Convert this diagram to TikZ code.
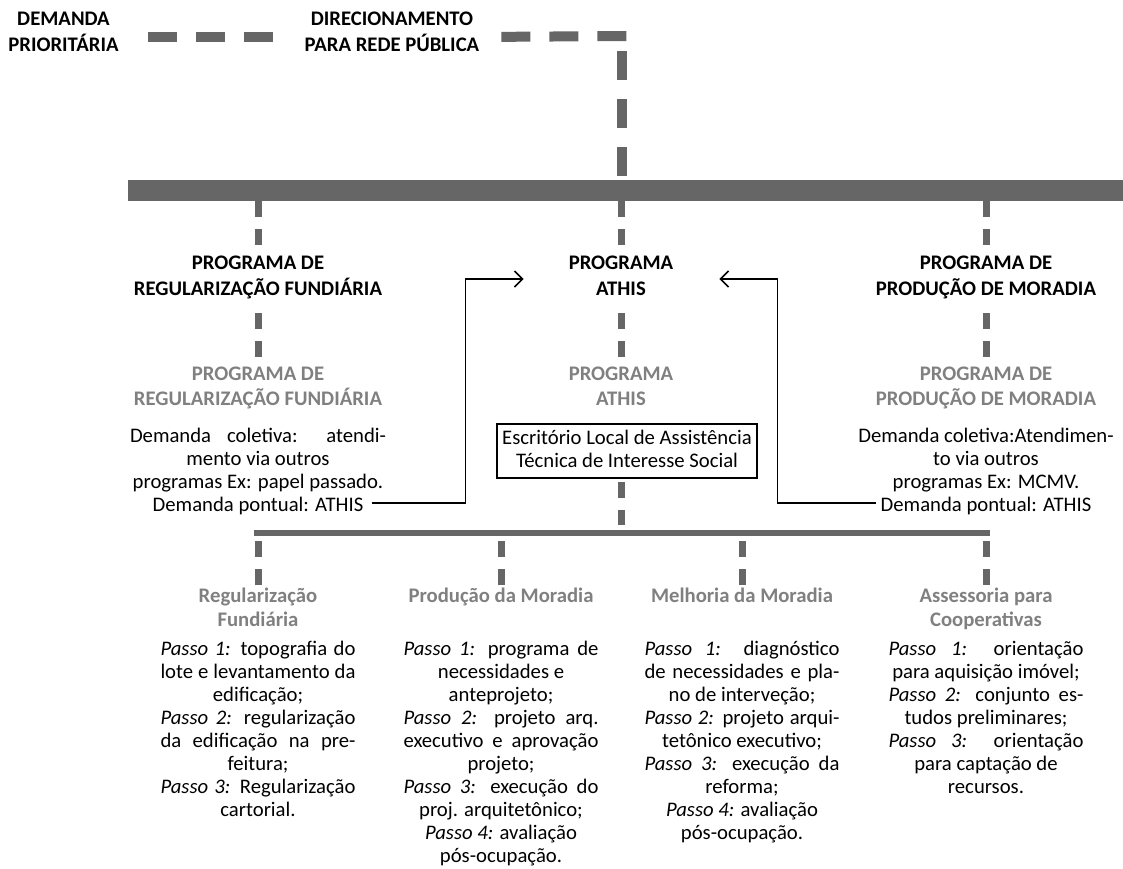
\documentclass[tikz,border=0pt]{standalone}
\usepackage{fontspec}
\setmainfont{Carlito}
\usetikzlibrary{arrows.meta}

\definecolor{bargray}{HTML}{666666}
\definecolor{subgray}{HTML}{808080}

\newlength{\colw}\setlength{\colw}{195pt}
\newlength{\upw}\setlength{\upw}{256pt}
\newcommand{\sline}[2][\colw]{\makebox[#1][s]{#2}}
\newcommand{\bodyfont}{\fontsize{20.7}{23}\selectfont}

\begin{document}
\begin{tikzpicture}[
        x=1pt, y=-1pt,
        bar/.style={fill=bargray},
        topdash/.style={draw=bargray, line width=10pt, dash pattern=on 29pt off 19pt},
        vdash/.style={draw=bargray, line width=7pt, dash pattern=on 16pt off 12pt},
        toptext/.style={font=\fontsize{20.7}{24}\selectfont\bfseries, align=center, inner sep=0pt, anchor=north},
        prog/.style={font=\fontsize{20.7}{26}\selectfont\bfseries, align=center, inner sep=0pt, anchor=north},
        subprog/.style={font=\fontsize{20.7}{25}\selectfont\bfseries, text=subgray, align=center, inner sep=0pt, anchor=north},
        coltitle/.style={font=\fontsize{20.7}{24}\selectfont\bfseries, text=subgray, align=center, inner sep=0pt, anchor=north},
        body/.style={font=\bodyfont, align=center, inner sep=0pt, anchor=north},
        officebox/.style={draw, line width=1.5pt, font=\bodyfont, align=center, inner sep=0pt, minimum width=260pt, minimum height=54pt},
        demandarrow/.style={line width=1.5pt, -{Straight Barb[length=8pt, width=16pt]}}
      ]
\useasboundingbox (0,0) rectangle (1123,868);

% Top labels
        \node[toptext] (prio) at (63.5,8.7) {\strut DEMANDA\\PRIORITÁRIA\strut};
        \node[toptext] (direc) at (392,8.7) {\strut DIRECIONAMENTO\\PARA REDE PÚBLICA\strut};

% Bars
        \fill[bar] (128,180) rectangle (1123,201);
        \coordinate (tt) at (128,180);
        \coordinate (tb) at (128,201);
        \fill[bar] (254,530) rectangle (990,536);
        \coordinate (lt) at (254,530);
        \coordinate (lb) at (254,536);

% Programs
        \node[prog] (regprog) at (258,250.8) {\strut PROGRAMA DE\\REGULARIZAÇÃO FUNDIÁRIA\strut};
        \node[prog] (athisprog) at (621,250.8) {\strut PROGRAMA\\ATHIS\strut};
        \node[prog] (prodprog) at (986,250.8) {\strut PROGRAMA DE\\PRODUÇÃO DE MORADIA\strut};

        \node[subprog] (regsub) at (258,362.5) {\strut PROGRAMA DE\\REGULARIZAÇÃO FUNDIÁRIA\strut};
        \node[subprog] (athissub) at (621,362.5) {\strut PROGRAMA\\ATHIS\strut};
        \node[subprog] (prodsub) at (986,362.5) {\strut PROGRAMA DE\\PRODUÇÃO DE MORADIA\strut};

        \node[body] (regtxt) at (258,425.7)
          {\strut\sline[\upw]{Demanda coletiva: atendi-}\\mento via outros\\programas Ex: papel passado.\\Demanda pontual: ATHIS\strut};
        \node[body] (prodtxt) at (986,425.7)
          {\strut Demanda coletiva:Atendimen-\\to via outros\\programas Ex: MCMV.\\Demanda pontual: ATHIS\strut};
        \node[officebox] (office) at (627,451)
          {\strut Escritório Local de Assistência\\Técnica de Interesse Social\strut};

% Services
        \node[coltitle] (colreg) at (258,585.2) {\strut Regularização\\Fundiária\strut};
        \node[coltitle] (colprod) at (501,585.2) {\strut Produção da Moradia\strut};
        \node[coltitle] (colmel) at (742,585.2) {\strut Melhoria da Moradia\strut};
        \node[coltitle] (colass) at (986,585.2) {\strut Assessoria para\\Cooperativas\strut};

        \node[body] (regsteps) at (258,639)
          {\strut\sline{\emph{Passo 1:} topografia do}\\
           \sline{lote e levantamento da}\\
           edificação;\\
           \sline{\emph{Passo 2:} regularização}\\
           \sline{da edificação na pre-}\\
           feitura;\\
           \sline{\emph{Passo 3:} Regularização}\\
           cartorial.\strut};
        \node[body] (prodsteps) at (501,639)
          {\strut\sline{\emph{Passo 1:} programa de}\\
           necessidades e\\
           anteprojeto;\\
           \sline{\emph{Passo 2:} projeto arq.}\\
           \sline{executivo e aprovação}\\
           projeto;\\
           \sline{\emph{Passo 3:} execução do}\\
           proj. arquitetônico;\\
           \emph{Passo 4:} avaliação\\
           pós-ocupação.\strut};
        \node[body] (melsteps) at (742,639)
          {\strut\sline{\emph{Passo 1:} diagnóstico}\\
           \sline{de necessidades e pla-}\\
           no de interveção;\\
           \sline{\emph{Passo 2:} projeto arqui-}\\
           tetônico executivo;\\
           \sline{\emph{Passo 3:} execução da}\\
           reforma;\\
           \emph{Passo 4:} avaliação\\
           pós-ocupação.\strut};
        \node[body] (asssteps) at (986,639)
          {\strut\sline{\emph{Passo 1:} orientação}\\
           para aquisição imóvel;\\
           \sline{\emph{Passo 2:} conjunto es-}\\
           tudos preliminares;\\
           \sline{\emph{Passo 3:} orientação}\\
           para captação de\\
           recursos.\strut};

% Dashed links
        \coordinate (bend) at (621.5,36);
        \draw[topdash, shorten <=29pt, shorten >=29pt] ([yshift=-3.3pt]prio.east) -- ([yshift=-3.3pt]direc.west);
        \draw[topdash, shorten <=22pt] ([yshift=-3.3pt]direc.east) -- ([xshift=5.5pt]bend);
        \draw[topdash, shorten <=15pt, shorten >=4pt] (bend) -- (bend |- tt);

        \foreach \pa/\pb in {regprog/regsub, athisprog/athissub, prodprog/prodsub} {
          \draw[vdash, shorten >=4.8pt] (\pa.north |- tb) -- (\pa.north);
          \draw[vdash, shorten <=10.2pt, shorten >=5.5pt] (\pa.south) -- (\pb.north);
        }
        \draw[vdash, shorten <=3pt, shorten >=5pt] (athisprog |- office.south) -- (athisprog |- lt);
        \foreach \cc in {colreg, colprod, colmel, colass}
          \draw[vdash, shorten <=5pt] (\cc.north |- lb) -- (\cc.north);

% Demand arrows
        \coordinate (regout) at (371.5,503);
        \coordinate (prodout) at (876,503);
        \draw[demandarrow, shorten >=45pt] (regout) -| ([xshift=-103pt,yshift=-2pt]athisprog.west) -- ([yshift=-2pt]athisprog.west);
        \draw[demandarrow, shorten >=46pt] (prodout) -| ([xshift=104pt,yshift=-2pt]athisprog.east) -- ([yshift=-2pt]athisprog.east);

      \end{tikzpicture}
\end{document}
